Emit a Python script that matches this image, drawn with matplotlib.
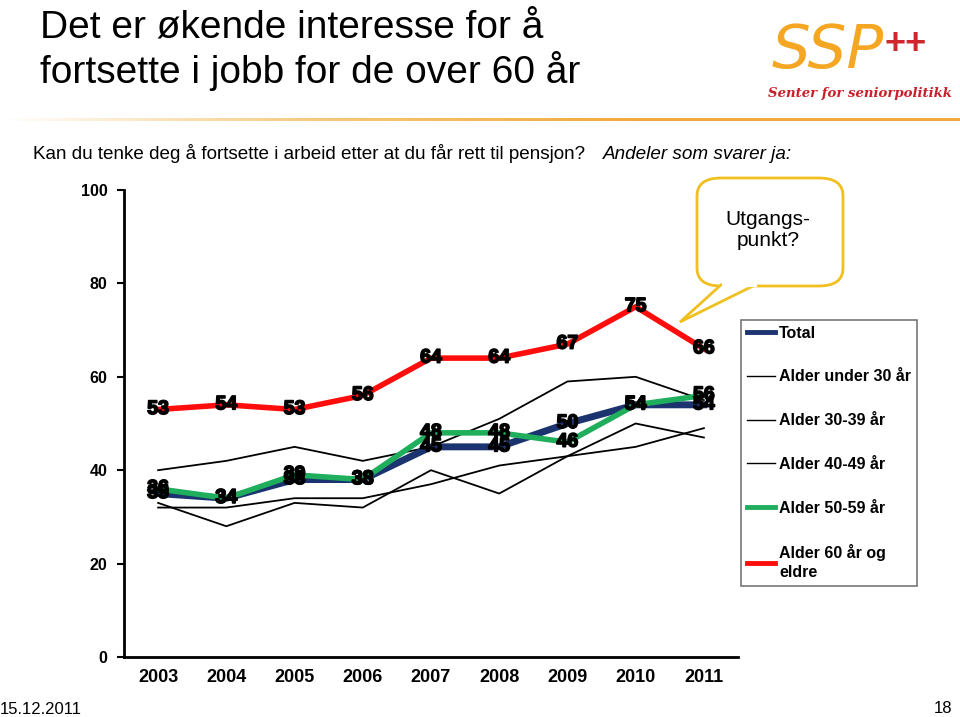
import numpy as np
import matplotlib
matplotlib.use("Agg")
import matplotlib.pyplot as plt
import matplotlib.patheffects as pe
from matplotlib.patches import FancyBboxPatch, Polygon
from matplotlib.lines import Line2D
from matplotlib.colors import LinearSegmentedColormap

plt.rcParams['font.family'] = ['Liberation Sans', 'DejaVu Sans']

# data
years = ['2003', '2004', '2005', '2006', '2007', '2008', '2009', '2010', '2011']
total = [35, 34, 38, 38, 45, 45, 50, 54, 54]
under30 = [40, 42, 45, 42, 45, 51, 59, 60, 55]
age30_39 = [33, 28, 33, 32, 40, 35, 43, 50, 47]
age40_49 = [32, 32, 34, 34, 37, 41, 43, 45, 49]
age50_59 = [36, 34, 39, 38, 48, 48, 46, 54, 56]
age60 = [53, 54, 53, 56, 64, 64, 67, 75, 66]

navy = '#1b3470'
green = '#1fae5c'
red = '#ff0d0d'

W, H = 960, 717
fig = plt.figure(figsize=(9.6, 7.17), dpi=100)

def fx(x):
    return x / W

def fy(y):
    return 1 - y / H

# title, two lines
fig.text(fx(40), fy(38), 'Det er økende interesse for å', fontsize=28,
         va='baseline', ha='left')
fig.text(fx(40), fy(83), 'fortsette i jobb for de over 60 år', fontsize=28,
         va='baseline', ha='left')

# gradient line under title
grad = np.linspace(0, 1, 256).reshape(1, -1)
gax = fig.add_axes([0, fy(121), 1, 3 / H])
cm = LinearSegmentedColormap.from_list('g', ['#ffffff', '#f5c87a', '#f2a93b', '#f2a93b'])
gax.imshow(grad, aspect='auto', cmap=cm)
gax.axis('off')

# subtitle
fig.text(fx(33), fy(159), 'Kan du tenke deg å fortsette i arbeid etter at du får rett til pensjon?',
         fontsize=13.6, va='baseline', ha='left')
fig.text(fx(603), fy(159), 'Andeler som svarer ja:', fontsize=13.6, style='italic',
         va='baseline', ha='left')

# logo
fig.text(fx(772), fy(68), 'SSP', fontsize=44, color='#f5a623', style='italic',
         family='DejaVu Sans', va='baseline', ha='left')
fig.text(fx(884), fy(54), '++', fontsize=26, color='#d0262e', fontweight='bold',
         va='baseline', ha='left')
fig.text(fx(768), fy(97), 'Senter for seniorpolitikk', fontsize=9.5, color='#c8202a',
         style='italic', fontweight='bold', family='DejaVu Serif', va='baseline', ha='left')

# main axes
ax = fig.add_axes([fx(124), fy(657), (738 - 124) / W, (657 - 190) / H])
x = np.arange(len(years))

for s in [under30, age30_39, age40_49]:
    ax.plot(x, s, color='black', lw=1.3, zorder=2)
ax.plot(x, total, color=navy, lw=5, zorder=3)
ax.plot(x, age50_59, color=green, lw=4, zorder=4)
ax.plot(x, age60, color=red, lw=4, zorder=5)

for s in [total, age50_59, age60]:
    for xi, v in zip(x, s):
        ax.text(xi, v, str(v), fontsize=14, fontweight='bold', ha='center', va='center',
                zorder=6, path_effects=[pe.withStroke(linewidth=1.2, foreground='black')])

ax.set_xlim(-0.5, 8.5)
ax.set_ylim(0, 100)
ax.set_yticks([0, 20, 40, 60, 80, 100])
ax.set_xticks(x)
ax.set_xticklabels(years, fontsize=13, fontweight='bold')
for lab in ax.get_yticklabels():
    lab.set_fontweight('bold')
    lab.set_fontsize(11.5)
ax.tick_params(axis='x', length=0, pad=9)
ax.tick_params(axis='y', length=5, width=1.5, pad=7)
for sp in ['top', 'right']:
    ax.spines[sp].set_visible(False)
for sp in ['left', 'bottom']:
    ax.spines[sp].set_linewidth(2)

# legend
handles = [
    Line2D([], [], color=navy, lw=3.5),
    Line2D([], [], color='black', lw=1),
    Line2D([], [], color='black', lw=1),
    Line2D([], [], color='black', lw=1),
    Line2D([], [], color=green, lw=3.5),
    Line2D([], [], color=red, lw=3.5),
]
labels = ['Total', 'Alder under 30 år', 'Alder 30-39 år', 'Alder 40-49 år',
          'Alder 50-59 år', 'Alder 60 år og\neldre']
leg = fig.legend(handles, labels, loc='upper left', bbox_to_anchor=(fx(741), fy(320)),
                 frameon=True, fancybox=False, edgecolor='#555555',
                 prop={'size': 11.5, 'weight': 'bold'}, handlelength=1.8, handletextpad=0.25,
                 labelspacing=1.8, borderpad=0.35, borderaxespad=0)
leg.get_frame().set_linewidth(1.2)
for t in leg.get_texts():
    t.set_linespacing(1.3)

# speech bubble
bub = FancyBboxPatch((fx(697), fy(286)), (843 - 697) / W, (286 - 178) / H,
                     boxstyle='round,pad=0,rounding_size=0.025', transform=fig.transFigure,
                     facecolor='white', edgecolor='#f0c020', lw=2, zorder=10)
fig.add_artist(bub)
tail = Polygon([(fx(722), fy(284)), (fx(680), fy(322)), (fx(757), fy(284))], closed=False,
               transform=fig.transFigure, facecolor='white', edgecolor='#f0c020', lw=2,
               zorder=11)
fig.add_artist(tail)
fig.add_artist(Line2D([fx(724), fx(755)], [fy(285), fy(285)], transform=fig.transFigure,
                      color='white', lw=3, zorder=12))
fig.text(fx(768), fy(230), 'Utgangs-\npunkt?', fontsize=15, ha='center', va='center',
         linespacing=1.15, zorder=13)

# footer
fig.text(fx(0), fy(714), '15.12.2011', fontsize=12, va='baseline', ha='left')
fig.text(fx(952), fy(713), '18', fontsize=12, va='baseline', ha='right')

fig.savefig('out.png', dpi=100)
